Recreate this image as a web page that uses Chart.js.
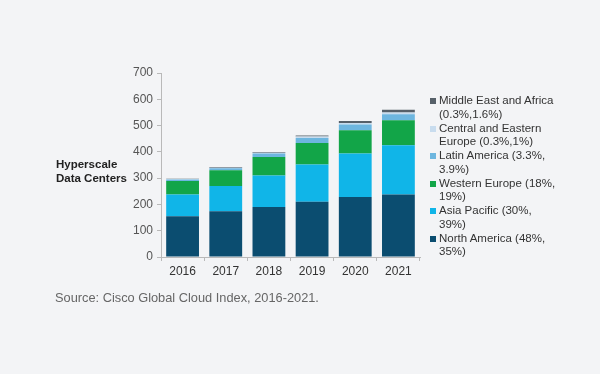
<!DOCTYPE html>
<html>
<head>
<meta charset="utf-8">
<script src="https://cdn.jsdelivr.net/npm/chart.js@4"></script>
<style>
  html, body { margin: 0; padding: 0; background: #f3f4f6; }
  #wrap { position: relative; width: 600px; height: 374px; font-family: "Liberation Sans", Arial, sans-serif; }
  #chart { position: absolute; left: 0; top: 0; }
  #ytitle { position: absolute; left: 56px; top: 157px; font-size: 11.5px; font-weight: bold; color: #222; line-height: 14px; }
  #source { position: absolute; left: 55px; top: 290px; font-size: 12.8px; color: #666; }
  #legend { position: absolute; left: 430px; top: 94px; font-size: 11.5px; color: #333; line-height: 13.5px; }
  #legend div { position: relative; padding-left: 9px; margin-bottom: 0.5px; }
  #legend span { position: absolute; left: 0; top: 4px; width: 6px; height: 6px; }
</style>
</head>
<body>
<div id="wrap">
  <canvas id="chart" width="600" height="374"></canvas>
  <div id="ytitle">Hyperscale<br>Data Centers</div>
  <div id="legend"></div>
  <div id="source">Source: Cisco Global Cloud Index, 2016-2021.</div>
</div>
<script>
const years = ["2016", "2017", "2018", "2019", "2020", "2021"];
const northAmerica = [155, 174, 190, 210, 228, 238];
const asiaPacific = [83, 96, 120, 142, 166, 187];
const westernEurope = [51, 60, 70, 82, 88, 95];
const latinAmerica = [6, 8, 14, 19, 22, 23];
const centralEasternEurope = [2, 2, 3, 5, 6, 7];
const middleEastAfrica = [1, 2, 2, 4, 7, 10];

const series = [
	{ label: ["North America (48%,", "35%)"], data: northAmerica, color: "#0b4d70" },
	{ label: ["Asia Pacific (30%,", "39%)"], data: asiaPacific, color: "#10b5e8" },
	{ label: ["Western Europe (18%,", "19%)"], data: westernEurope, color: "#12a548" },
	{ label: ["Latin America (3.3%,", "3.9%)"], data: latinAmerica, color: "#6db6df" },
	{ label: ["Central and Eastern", "Europe (0.3%,1%)"], data: centralEasternEurope, color: "#c8dcee" },
	{ label: ["Middle East and Africa", "(0.3%,1.6%)"], data: middleEastAfrica, color: "#566069" },
];

const legendEl = document.getElementById("legend");
series.slice().reverse().forEach((s) => {
	const row = document.createElement("div");
	row.innerHTML = '<span style="background:' + s.color + '"></span>' + s.label.join("<br>");
	legendEl.appendChild(row);
});

const tickFont = { family: "'Liberation Sans', Arial, sans-serif", size: 12 };

new Chart(document.getElementById("chart"), {
	type: "bar",
	data: {
		labels: years,
		datasets: series.map((s) => ({
			label: s.label.join(" "),
			data: s.data,
			backgroundColor: s.color,
			borderWidth: 0,
			barPercentage: 0.76,
			categoryPercentage: 1,
		})),
	},
	options: {
		responsive: false,
		animation: false,
		layout: {
			padding: { left: 0, right: 180, top: 73, bottom: 0 },
		},
		plugins: {
			legend: { display: false },
			tooltip: { enabled: false },
		},
		scales: {
			x: {
				stacked: true,
				afterFit: (scale) => { scale.height = 117; },
				border: { display: true, color: "#b9b9b9", width: 1 },
				grid: { display: true, drawOnChartArea: false, drawTicks: true, tickLength: 4, color: "#b9b9b9" },
				ticks: { color: "#333", font: tickFont, padding: 3 },
			},
			y: {
				stacked: true,
				min: 0,
				max: 700,
				afterFit: (scale) => { scale.width = 161; },
				border: { display: true, color: "#b9b9b9", width: 1 },
				grid: { display: true, drawOnChartArea: false, drawTicks: true, tickLength: 4, color: "#b9b9b9" },
				ticks: { stepSize: 100, color: "#555", font: tickFont, padding: 4 },
			},
		},
	},
});
</script>
</body>
</html>
